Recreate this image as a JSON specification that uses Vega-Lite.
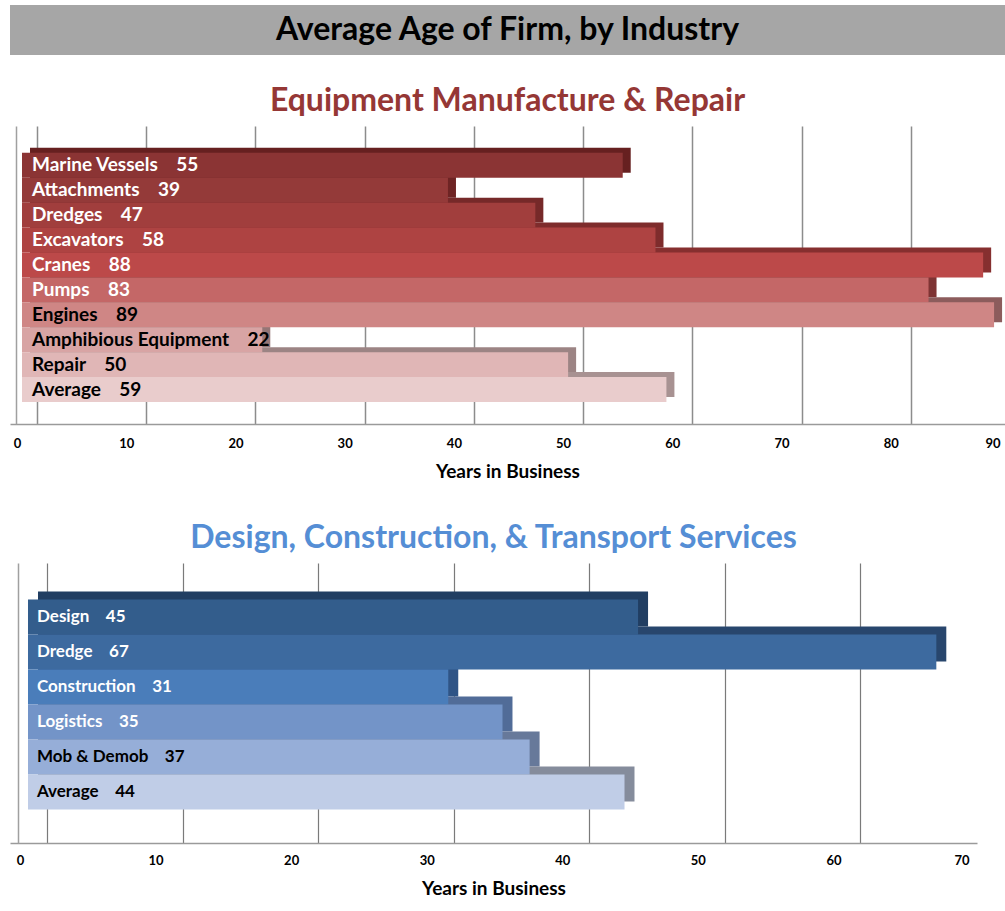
{
  "$schema": "https://vega.github.io/schema/vega-lite/v6.json",
  "background": "white",
  "padding": {"left": 10, "top": 5, "right": 0, "bottom": 0},
  "spacing": 30,
  "config": {"view": {"stroke": null}, "font": "Lato"},
  "vconcat": [
    {
      "width": 995,
      "height": 50,
      "view": {"fill": "#a6a6a6", "stroke": null},
      "data": {"values": [{"t": "Average Age of Firm, by Industry"}]},
      "mark": {"type": "text", "fontSize": 32, "fontWeight": "bold", "font": "Lato", "color": "black", "baseline": "middle"},
      "encoding": {"text": {"field": "t"}}
    },
    {
      "spacing": 41,
      "vconcat": [
        {
          "width": 995,
          "height": 298,
          "title": {"text": "Equipment Manufacture & Repair", "color": "#953735", "fontSize": 32, "font": "Lato", "fontWeight": "bold", "offset": 8, "anchor": "middle"},
          "data": {"values": [
            {"industry": "Marine Vessels", "years": 55},
            {"industry": "Attachments", "years": 39},
            {"industry": "Dredges", "years": 47},
            {"industry": "Excavators", "years": 58},
            {"industry": "Cranes", "years": 88},
            {"industry": "Pumps", "years": 83},
            {"industry": "Engines", "years": 89},
            {"industry": "Amphibious Equipment", "years": 22},
            {"industry": "Repair", "years": 50},
            {"industry": "Average", "years": 59}
          ]},
          "transform": [{"calculate": "datum.industry + '\u00a0\u00a0\u00a0\u00a0' + datum.years", "as": "label"}],
          "encoding": {
            "y": {"field": "industry", "type": "nominal", "sort": null,
              "scale": {"paddingInner": 0, "paddingOuter": 0.98, "align": 0.55},
              "axis": {"orient": "left", "labels": false, "ticks": false, "domain": true, "domainColor": "#a0a0a0", "domainWidth": 1.5, "offset": -6, "title": null, "grid": false}}
          },
          "layer": [
            {
              "mark": {"type": "bar", "xOffset": -7, "yOffset": -5},
              "encoding": {
                "x": {"field": "years", "type": "quantitative", "scale": {"domain": [-2.472, 88.6267], "nice": false, "zero": false},
                  "axis": {"orient": "bottom", "grid": true, "gridColor": "#8c8c8c", "gridWidth": 1.5, "labels": false, "ticks": false, "domain": false, "title": null, "values": [0, 10, 20, 30, 40, 50, 60, 70, 80]}},
                "color": {"field": "industry", "type": "nominal", "legend": null,
                  "scale": {"domain": ["Marine Vessels", "Attachments", "Dredges", "Excavators", "Cranes", "Pumps", "Engines", "Amphibious Equipment", "Repair", "Average"],
                    "range": ["#662020", "#6e2424", "#762929", "#7e2c2c", "#862f2f", "#7e3434", "#8c5c5c", "#957676", "#9c8484", "#a89292"]}}
              }
            },
            {
              "mark": {"type": "bar"},
              "encoding": {
                "x": {"field": "years", "type": "quantitative", "scale": {"domain": [-1.0987, 90], "nice": false, "zero": false},
                  "axis": {"orient": "bottom", "grid": false, "values": [0, 10, 20, 30, 40, 50, 60, 70, 80, 90], "labelOffset": -5, "labelFlush": true, "labelFontSize": 13, "labelFontWeight": "bold", "labelColor": "black", "labelPadding": 13, "ticks": false, "domain": true, "domainColor": "#9a9a9a", "domainWidth": 1.5, "title": "Years in Business", "titleFontSize": 19, "titleFontWeight": "bold", "titlePadding": 12, "titleColor": "black"}},
                "color": {"field": "industry", "type": "nominal", "legend": null,
                  "scale": {"domain": ["Marine Vessels", "Attachments", "Dredges", "Excavators", "Cranes", "Pumps", "Engines", "Amphibious Equipment", "Repair", "Average"],
                    "range": ["#8b3434", "#943a39", "#a13e3d", "#ae4342", "#bc4949", "#c46767", "#cf8685", "#d8a4a4", "#e0b6b6", "#e9cccc"]}}
              }
            },
            {
              "mark": {"type": "text", "align": "left", "baseline": "middle", "dx": 10, "fontSize": 19, "fontWeight": "bold", "font": "Lato"},
              "encoding": {
                "x": {"datum": 0, "type": "quantitative", "axis": null, "scale": {"domain": [-1.0987, 90], "nice": false, "zero": false}},
                "text": {"field": "label"},
                "color": {"condition": {"test": "indexof(['Engines', 'Amphibious Equipment', 'Repair', 'Average'], datum.industry) >= 0", "value": "black"}, "value": "white"}
              }
            }
          ],
          "resolve": {"scale": {"color": "independent", "x": "independent"}, "axis": {"x": "independent"}}
        },
        {
          "width": 967,
          "height": 280,
          "title": {"text": "Design, Construction, & Transport Services", "color": "#558ed5", "fontSize": 32, "font": "Lato", "fontWeight": "bold", "offset": 8, "anchor": "middle"},
          "data": {"values": [
            {"industry": "Design", "years": 45},
            {"industry": "Dredge", "years": 67},
            {"industry": "Construction", "years": 31},
            {"industry": "Logistics", "years": 35},
            {"industry": "Mob & Demob", "years": 37},
            {"industry": "Average", "years": 44}
          ]},
          "transform": [{"calculate": "datum.industry + '\u00a0\u00a0\u00a0\u00a0' + datum.years", "as": "label"}],
          "encoding": {
            "y": {"field": "industry", "type": "nominal", "sort": null,
              "scale": {"paddingInner": 0, "paddingOuter": 1.12, "align": 0.52},
              "axis": {"orient": "left", "labels": false, "ticks": false, "domain": true, "domainColor": "#a0a0a0", "domainWidth": 1.5, "offset": -8, "title": null, "grid": false}}
          },
          "layer": [
            {
              "mark": {"type": "bar", "xOffset": -9, "yOffset": -8},
              "encoding": {
                "x": {"field": "years", "type": "quantitative", "scale": {"domain": [-2.7292, 68.6008], "nice": false, "zero": false},
                  "axis": {"orient": "bottom", "grid": true, "gridColor": "#7a7a7a", "gridWidth": 1.2, "labels": false, "ticks": false, "domain": false, "title": null, "values": [0, 10, 20, 30, 40, 50, 60]}},
                "color": {"field": "industry", "type": "nominal", "legend": null,
                  "scale": {"domain": ["Design", "Dredge", "Construction", "Logistics", "Mob & Demob", "Average"],
                    "range": ["#213e62", "#28466d", "#2f5486", "#516c98", "#67799a", "#858c9c"]}}
              }
            },
            {
              "mark": {"type": "bar"},
              "encoding": {
                "x": {"field": "years", "type": "quantitative", "scale": {"domain": [-1.3277, 70], "nice": false, "zero": false},
                  "axis": {"orient": "bottom", "grid": false, "values": [0, 10, 20, 30, 40, 50, 60, 70], "labelOffset": -8, "labelFontSize": 13, "labelFontWeight": "bold", "labelColor": "black", "labelPadding": 11, "ticks": false, "domain": true, "domainColor": "#9a9a9a", "domainWidth": 1.5, "title": "Years in Business", "titleFontSize": 19, "titleFontWeight": "bold", "titlePadding": 12, "titleColor": "black"}},
                "color": {"field": "industry", "type": "nominal", "legend": null,
                  "scale": {"domain": ["Design", "Dredge", "Construction", "Logistics", "Mob & Demob", "Average"],
                    "range": ["#335d8c", "#3d6a9f", "#4a7dba", "#7394c8", "#96aed8", "#c0cde7"]}}
              }
            },
            {
              "mark": {"type": "text", "align": "left", "baseline": "middle", "dx": 9, "fontSize": 17, "fontWeight": "bold", "font": "Lato"},
              "encoding": {
                "x": {"datum": 0, "type": "quantitative", "axis": null, "scale": {"domain": [-1.3277, 70], "nice": false, "zero": false}},
                "text": {"field": "label"},
                "color": {"condition": {"test": "indexof(['Mob & Demob', 'Average'], datum.industry) >= 0", "value": "black"}, "value": "white"}
              }
            }
          ],
          "resolve": {"scale": {"color": "independent", "x": "independent"}, "axis": {"x": "independent"}}
        }
      ]
    }
  ]
}
